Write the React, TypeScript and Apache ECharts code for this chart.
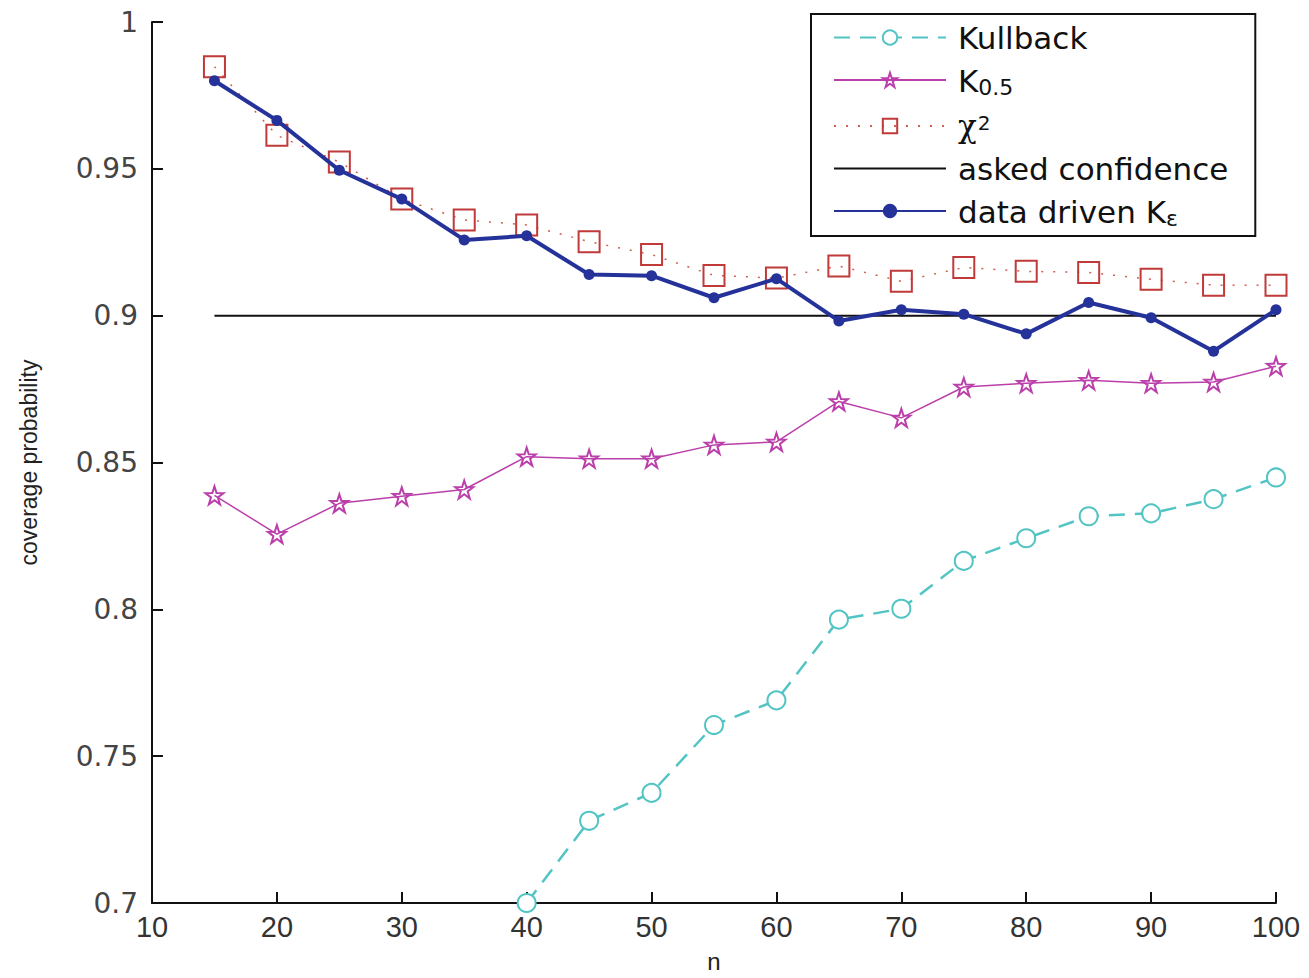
import React, { useEffect, useRef } from "react";
import * as echarts from "echarts";

const nValues = [15, 20, 25, 30, 35, 40, 45, 50, 55, 60, 65, 70, 75, 80, 85, 90, 95, 100];
const kullback = [null, null, null, null, null, 0.7, 0.728, 0.7375, 0.7606, 0.769, 0.7965, 0.8002, 0.8165, 0.8242, 0.8317, 0.8327, 0.8375, 0.8449];
const k05 = [0.8388, 0.8256, 0.8361, 0.8385, 0.8408, 0.852, 0.8513, 0.8513, 0.856, 0.857, 0.8708, 0.8652, 0.8757, 0.877, 0.878, 0.877, 0.8774, 0.8828];
const chi2 = [0.9848, 0.9614, 0.9523, 0.9397, 0.9326, 0.9309, 0.9252, 0.9208, 0.9137, 0.9128, 0.9169, 0.9117, 0.9164, 0.9151, 0.9147, 0.9124, 0.9104, 0.9104];
const asked = [0.9, 0.9, 0.9, 0.9, 0.9, 0.9, 0.9, 0.9, 0.9, 0.9, 0.9, 0.9, 0.9, 0.9, 0.9, 0.9, 0.9, 0.9];
const dataDriven = [0.980, 0.9665, 0.9495, 0.9397, 0.9258, 0.9272, 0.914, 0.9136, 0.9061, 0.9126, 0.8982, 0.902, 0.9005, 0.8938, 0.9045, 0.8993, 0.8879, 0.902];

const seriesNames = ["Kullback", "K0.5", "χ2", "asked confidence", "data driven Kε"];
const yTicks = { min: 0.7, max: 1, interval: 0.05 };
const xTicks = { min: 10, max: 100, interval: 10 };

const STAR = "path://M12 0 L14.8 8.4 L24 8.6 L16.6 14 L19.4 23 L12 17.6 L4.6 23 L7.4 14 L0 8.6 L9.2 8.4 Z";

function pairs(vals: (number | null)[]) {
  return nValues.map((n, i) => [n, vals[i]]);
}

export default function App() {
  const ref = useRef<HTMLDivElement>(null);
  useEffect(() => {
    if (!ref.current) return;
    const chart = echarts.init(ref.current, undefined, { renderer: "svg" });
    const font = "'Liberation Sans', Arial, sans-serif";
    const legFont = "'DejaVu Sans', Verdana, sans-serif";
    chart.setOption({
      animation: false,
      backgroundColor: "#ffffff",
      grid: { left: 152, right: 33, top: 22, bottom: 70, containLabel: false },
      legend: {
        orient: "vertical",
        left: 811,
        top: 14,
        padding: [8, 27, 7, 22],
        backgroundColor: "#ffffff",
        borderColor: "#111111",
        borderWidth: 2,
        itemWidth: 112,
        itemHeight: 18,
        itemGap: 12,
        data: [
          { name: seriesNames[0] },
          { name: seriesNames[1] },
          { name: seriesNames[2] },
          { name: seriesNames[3], itemStyle: { opacity: 0 } },
          { name: seriesNames[4] },
        ],
        textStyle: {
          fontFamily: legFont,
          fontSize: 31,
          color: "#111",
          lineHeight: 30,
          padding: [0, 0, 0, 7],
          rich: {
            base: { fontFamily: legFont, fontSize: 31, color: "#111", lineHeight: 30, verticalAlign: "top" },
            sub: { fontFamily: legFont, fontSize: 22, color: "#111", lineHeight: 22, padding: [11, 0, 0, 0], verticalAlign: "top" },
            chi: { fontFamily: "'DejaVu Serif', serif", fontSize: 31, color: "#111", lineHeight: 30, verticalAlign: "bottom" },
            sup: { fontFamily: legFont, fontSize: 20, color: "#111", lineHeight: 20, padding: [2, 0, 0, 1], verticalAlign: "top" },
          },
        },
        formatter: (name: string) => {
          if (name === "K0.5") return "{base|K}{sub|0.5}";
          if (name === "χ2") return "{chi|χ}{sup|2}";
          if (name === "data driven Kε") return "{base|data driven K}{sub|ε}";
          return name;
        },
      },
      xAxis: {
        type: "value",
        min: xTicks.min,
        max: xTicks.max,
        interval: xTicks.interval,
        name: "n",
        nameLocation: "middle",
        nameGap: 46,
        nameTextStyle: { fontFamily: font, fontSize: 24, color: "#222" },
        axisLine: { show: true, onZero: false, lineStyle: { color: "#111", width: 2 } },
        axisTick: { show: true, inside: true, length: 11, lineStyle: { color: "#111", width: 2 } },
        axisLabel: { fontFamily: font, fontSize: 29, color: "#333", margin: 9 },
        splitLine: { show: false },
      },
      yAxis: {
        type: "value",
        min: yTicks.min,
        max: yTicks.max,
        interval: yTicks.interval,
        name: "coverage probability",
        nameLocation: "middle",
        nameGap: 112,
        nameTextStyle: { fontFamily: font, fontSize: 23, color: "#222" },
        axisLine: { show: true, lineStyle: { color: "#111", width: 2 } },
        axisTick: { show: true, inside: true, length: 11, lineStyle: { color: "#111", width: 2 } },
        axisLabel: {
          fontFamily: legFont,
          fontSize: 28,
          color: "#444",
          margin: 14,
          formatter: (v: number) => String(parseFloat(v.toFixed(2))),
        },
        splitLine: { show: false },
      },
      series: [
        {
          name: "Kullback",
          type: "line",
          data: pairs(kullback),
          symbol: "circle",
          symbolSize: 18,
          showAllSymbol: true,
          color: "#52c4c4",
          lineStyle: { color: "#52c4c4", width: 2.5, type: [16, 10] },
          itemStyle: { color: "#ffffff", borderColor: "#52c4c4", borderWidth: 2 },
          z: 2,
        },
        {
          name: "K0.5",
          type: "line",
          data: pairs(k05),
          symbol: STAR,
          symbolSize: 18,
          color: "#bb3faa",
          lineStyle: { color: "#bb3faa", width: 1.5 },
          itemStyle: { color: "rgba(255,255,255,0)", borderColor: "#bb3faa", borderWidth: 2 },
          z: 3,
        },
        {
          name: "χ2",
          type: "line",
          data: pairs(chi2),
          symbol: "rect",
          symbolSize: 21,
          color: "#c03a3a",
          lineStyle: { color: "#d06050", width: 1.5, type: [2, 10] },
          itemStyle: { color: "rgba(255,255,255,0)", borderColor: "#c03a3a", borderWidth: 2 },
          z: 4,
        },
        {
          name: "asked confidence",
          type: "line",
          data: pairs(asked),
          symbol: "none",
          color: "#111111",
          lineStyle: { color: "#111111", width: 2 },
          z: 1,
        },
        {
          name: "data driven Kε",
          type: "line",
          data: pairs(dataDriven),
          symbol: "circle",
          symbolSize: 11,
          color: "#24329a",
          lineStyle: { color: "#24329a", width: 4 },
          itemStyle: { color: "#24329a" },
          z: 5,
        },
      ],
    });
    return () => chart.dispose();
  }, []);
  return (
    <div
      ref={ref}
      style={{ position: "absolute", left: 0, top: 0, width: 1309, height: 978, background: "#fff" }}
    />
  );
}
